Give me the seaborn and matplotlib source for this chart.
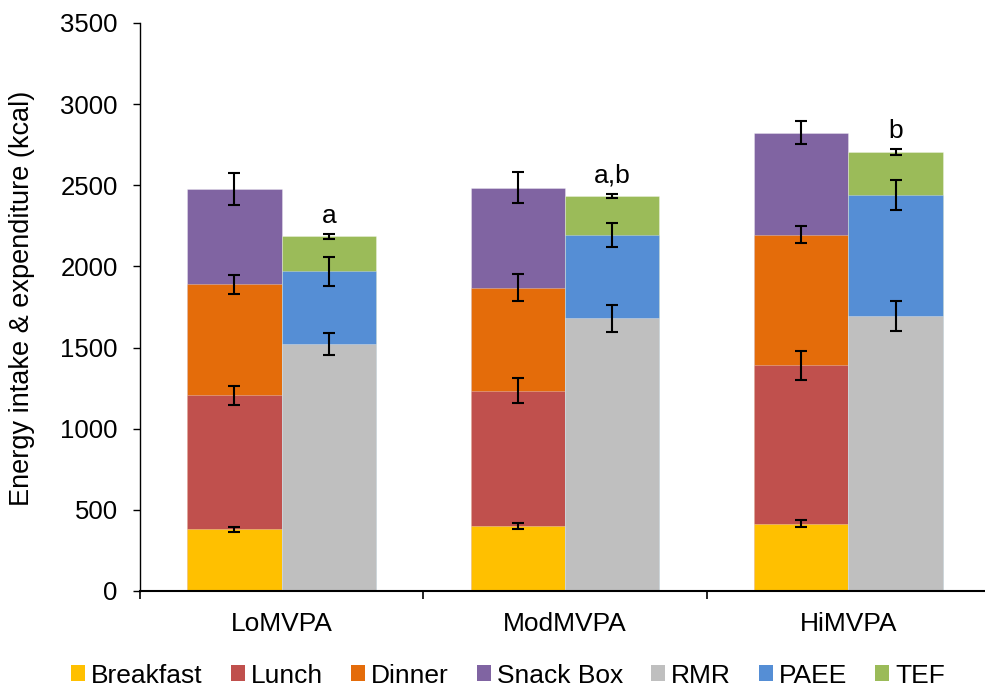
import numpy as np
import pandas as pd
import matplotlib
matplotlib.use("Agg")
import matplotlib.pyplot as plt
from matplotlib.patches import Patch
import seaborn as sns

# Groups and stacked components (kcal)
groups = ["LoMVPA", "ModMVPA", "HiMVPA"]

breakfast = [380, 400, 415]
lunch = [825, 835, 975]
dinner = [685, 635, 805]
snack_box = [585, 615, 630]

rmr = [1520, 1680, 1695]
paee = [450, 515, 745]
tef = [215, 240, 265]

# Standard errors for each component
breakfast_se = [15, 18, 22]
lunch_se = [57, 77, 87]
dinner_se = [57, 84, 53]
snack_box_se = [98, 95, 71]
rmr_se = [67, 83, 91]
paee_se = [90, 74, 93]
tef_se = [15, 14, 18]

# Significance letters above the expenditure bars
sig_labels = ["a", "a,b", "b"]

intake_parts = [
    ("Breakfast", breakfast, breakfast_se, "#FFC000"),
    ("Lunch", lunch, lunch_se, "#C0504D"),
    ("Dinner", dinner, dinner_se, "#E46C0A"),
    ("Snack Box", snack_box, snack_box_se, "#8064A2"),
]
expend_parts = [
    ("RMR", rmr, rmr_se, "#BFBFBF"),
    ("PAEE", paee, paee_se, "#558ED5"),
    ("TEF", tef, tef_se, "#9BBB59"),
]

sns.set_theme(style="ticks")
plt.rcParams["font.family"] = ["Liberation Sans", "DejaVu Sans"]
plt.rcParams.update({
    "text.color": "black",
    "axes.labelcolor": "black",
    "xtick.color": "black",
    "ytick.color": "black",
})

fig = plt.figure(figsize=(9.85, 6.88), dpi=100)
ax = fig.add_axes([140 / 985, 97 / 688, 850 / 985, 568 / 688])

sides = ["Intake", "Expenditure"]
group_width = 0.666
offsets = {"Intake": -group_width / 4, "Expenditure": group_width / 4}

# Build long table of cumulative tops
rows = []
for side, parts in (("Intake", intake_parts), ("Expenditure", expend_parts)):
    cum = np.zeros(len(groups))
    for name, vals, se, color in parts:
        cum = cum + np.array(vals, dtype=float)
        for g, top, e in zip(groups, cum, se):
            rows.append(dict(group=g, side=side, segment=name, top=top, se=e, color=color))
df = pd.DataFrame(rows)

# Draw each stack from the top segment down so lower segments overlay
for side, parts in (("Intake", intake_parts), ("Expenditure", expend_parts)):
    for name, vals, se, color in reversed(parts):
        sub = df[(df.side == side) & (df.segment == name)]
        sns.barplot(
            data=sub, x="group", y="top", hue="side",
            order=groups, hue_order=sides,
            palette={s: color for s in sides},
            width=group_width, gap=0, dodge=True, saturation=1,
            errorbar=None, legend=False, ax=ax,
            edgecolor=(1, 1, 1, 0.35), linewidth=0.6,
        )

# Error bars at the top of each segment
xpos = {g: i for i, g in enumerate(groups)}
for _, r in df.iterrows():
    ax.errorbar(xpos[r.group] + offsets[r.side], r.top, yerr=r.se,
                fmt="none", ecolor="black", elinewidth=1.5,
                capsize=4.5, capthick=1.5, zorder=5)

# Significance letters
exp_top = df[(df.side == "Expenditure") & (df.segment == "TEF")].set_index("group")
for g, lab in zip(groups, sig_labels):
    y = exp_top.loc[g, "top"] + exp_top.loc[g, "se"] + 70
    ax.text(xpos[g] + offsets["Expenditure"], y, lab, ha="center",
            va="baseline", fontsize=19, color="black")

ax.set_xlim(-0.5, len(groups) - 0.5)
ax.set_ylim(0, 3500)
ax.set_yticks(np.arange(0, 3501, 500))
ax.tick_params(axis="y", labelsize=18.5, length=5, width=1, color="black",
               direction="out", pad=11)
ax.tick_params(axis="x", which="major", labelsize=19, length=0, pad=15)
ax.set_xticks(np.arange(-0.5, len(groups)), minor=True)
ax.tick_params(axis="x", which="minor", length=6, width=1.2, color="black",
               direction="out")
ax.set_xlabel("")
ax.set_ylabel("Energy intake & expenditure (kcal)", fontsize=19.5)
ax.yaxis.set_label_coords(-0.124, 0.515)

for s in ("top", "right"):
    ax.spines[s].set_visible(False)
ax.spines["left"].set_color("black")
ax.spines["left"].set_linewidth(1.0)
ax.spines["bottom"].set_color("black")
ax.spines["bottom"].set_linewidth(1.5)

handles = [Patch(facecolor=c, edgecolor="none", label=n)
           for n, _, _, c in intake_parts + expend_parts]
fig.legend(handles=handles, loc="center", bbox_to_anchor=(0.5157, 0.018),
           ncol=7, frameon=False, fontsize=19, handlelength=0.53,
           handleheight=0.53, handletextpad=0.23, columnspacing=1.06)

fig.savefig("out.png", dpi=100)
